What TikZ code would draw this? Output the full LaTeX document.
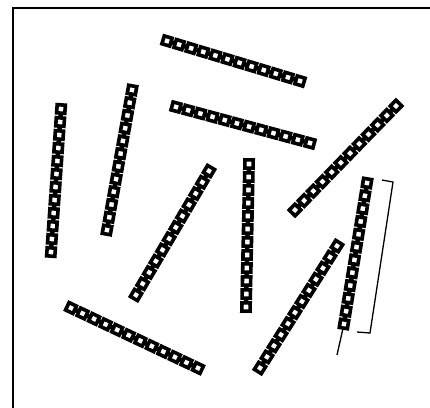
\documentclass[tikz,border=0pt]{standalone}
\usetikzlibrary{calc}
\tikzset{
  chainlink/.style={draw=black, fill=white, line width=3.6pt, minimum size=8.2pt, inner sep=0pt, outer sep=0pt, rectangle},
  chainbar/.style={line width=4.5pt},
  frameline/.style={line width=2.6pt},
  bracketline/.style={line width=1.3pt},
}
\newcommand\linkrow[5]{%
  \pgfmathsetmacro\rowang{atan2(-(#5-#3),#4-#2)}%
  \coordinate (#1-a) at (#2,#3);
  \coordinate (#1-b) at (#4,#5);
  \draw[chainbar] (#1-a) -- (#1-b);
  \foreach \i in {0,...,11}{
    \node[chainlink, rotate=\rowang] (#1-\i) at ($(#1-a)!\i/11!(#1-b)$) {};
  }
}
\begin{document}
\begin{tikzpicture}[x=1pt,y=-1pt]
\useasboundingbox (0,0) rectangle (430,407);
\draw[frameline] (13,410) -- (13,8) -- (432,8);
\linkrow{r1}{167}{41}{300}{81}
\linkrow{r2}{176}{107}{310}{143}
\linkrow{r3}{61}{109}{51}{252}
\linkrow{r4}{132}{90}{107}{230}
\linkrow{r5}{209}{171}{136}{295}
\linkrow{r6}{249}{164}{246}{307}
\linkrow{r7}{396}{106}{295}{210}
\linkrow{r8}{367}{183}{344}{324}
\linkrow{r9}{337}{246}{260}{368}
\linkrow{r10}{71}{308}{198}{368}
\coordinate (tailend) at (337,355);
\draw[bracketline] (r8-11) -- (tailend);
\coordinate (bk1) at (382,180);
\coordinate (bk2) at (393,182);
\coordinate (bk3) at (370,333);
\coordinate (bk4) at (357,332);
\draw[bracketline] (bk1) -- (bk2) -- (bk3) -- (bk4);
\end{tikzpicture}
\end{document}
